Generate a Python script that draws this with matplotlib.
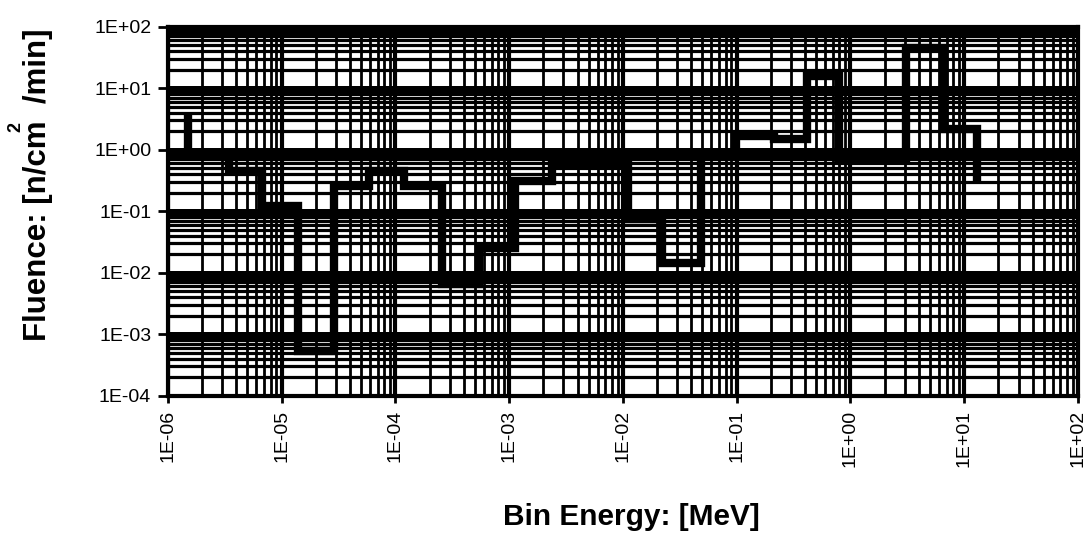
import matplotlib
matplotlib.use("Agg")
import matplotlib.pyplot as plt
from matplotlib.ticker import LogLocator, FixedLocator, NullFormatter

plt.rcParams['font.family'] = ['Liberation Sans', 'DejaVu Sans']

# Step (histogram) data: bin edges in MeV and fluence per bin
energy_edges = [1.50e-6, 1.50e-6, 3.43e-6, 6.68e-6, 1.38e-5, 2.86e-5, 5.92e-5,
                1.20e-4, 2.58e-4, 5.46e-4, 1.13e-3, 2.38e-3, 1.11e-2, 2.20e-2,
                4.83e-2, 9.80e-2, 0.211, 0.411, 0.785, 3.10, 6.68, 13.0]
fluence = [3.2, 0.9, 0.46, 0.123, 5.4e-4, 0.26, 0.46, 0.26, 6.6e-3, 0.025,
           0.31, 0.59, 0.075, 0.0146, 0.86, 1.7, 1.5, 16.0, 0.7, 45.0, 2.2, 0.35]

x_ticks = [1e-6, 1e-5, 1e-4, 1e-3, 1e-2, 1e-1, 1e0, 1e1, 1e2]
x_tick_labels = ["1E-06", "1E-05", "1E-04", "1E-03", "1E-02", "1E-01",
                 "1E+00", "1E+01", "1E+02"]
y_ticks = [1e-4, 1e-3, 1e-2, 1e-1, 1e0, 1e1, 1e2]
y_tick_labels = ["1E-04", "1E-03", "1E-02", "1E-01", "1E+00", "1E+01", "1E+02"]

fig = plt.figure(figsize=(10.9, 5.59), dpi=100)
ax = fig.add_axes([0.154, 0.292, 0.835, 0.660])

ax.set_xscale('log')
ax.set_yscale('log')
ax.set_xlim(1e-6, 1e2)
ax.set_ylim(1e-4, 1e2)

ax.xaxis.set_major_locator(FixedLocator(x_ticks))
ax.set_xticklabels(x_tick_labels, rotation=90, fontsize=14)
ax.yaxis.set_major_locator(FixedLocator(y_ticks))
ax.set_yticklabels(y_tick_labels, fontsize=14)
ax.xaxis.set_minor_locator(LogLocator(base=10, subs=range(2, 10), numticks=20))
ax.yaxis.set_minor_locator(LogLocator(base=10, subs=range(2, 10), numticks=20))
ax.xaxis.set_minor_formatter(NullFormatter())
ax.yaxis.set_minor_formatter(NullFormatter())

ax.xaxis.grid(True, which='major', color='black', linewidth=3.0)
ax.xaxis.grid(True, which='minor', color='black', linewidth=2.0)
ax.yaxis.grid(True, which='major', color='black', linewidth=3.6)
ax.yaxis.grid(True, which='minor', color='black', linewidth=2.3)
ax.set_axisbelow(True)

ax.tick_params(axis='y', which='major', direction='out', length=7, width=2, pad=5)
ax.tick_params(axis='x', which='major', direction='out', length=5, width=2, pad=5)
ax.tick_params(which='minor', length=0)

for s in ax.spines.values():
    s.set_linewidth(3)
    s.set_color('black')

ax.step(energy_edges, fluence, where='post', color='black', linewidth=6,
        solid_joinstyle='miter', zorder=5)

fig.text(0.579, 0.076, "Bin Energy: [MeV]", ha='center', va='center',
         fontsize=21.5, fontweight='bold')
fig.text(0.035, 0.669, "Fluence: [n/cm  /min]", ha='center', va='center',
         rotation=90, fontsize=22.5, fontweight='bold')
fig.text(0.015, 0.772, "2", ha='center', va='center', rotation=90,
         fontsize=13, fontweight='bold')

fig.savefig("out.png", dpi=100, facecolor='white')
